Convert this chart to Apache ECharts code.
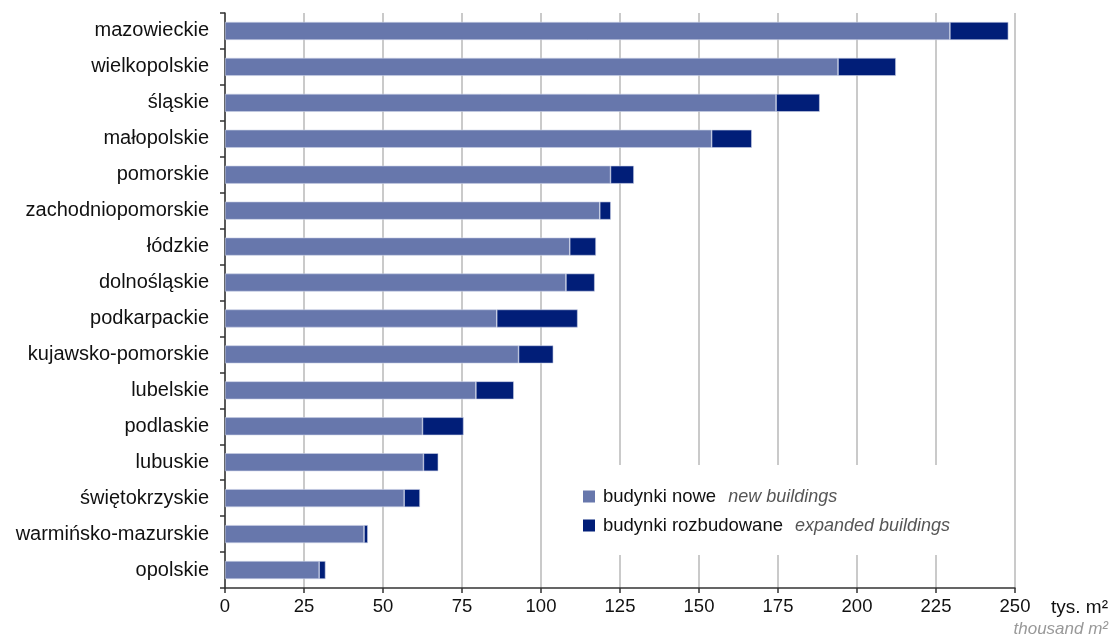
<!DOCTYPE html>
<html><head><meta charset="utf-8">
<script src="https://cdn.jsdelivr.net/npm/echarts@6/dist/echarts.min.js"></script>
<style>html,body{margin:0;padding:0;background:#fff}#c{width:1111px;height:640px}</style>
</head><body><div id="c"></div>
<script>
const categories = ['mazowieckie','wielkopolskie','śląskie','małopolskie','pomorskie','zachodniopomorskie','łódzkie','dolnośląskie','podkarpackie','kujawsko-pomorskie','lubelskie','podlaskie','lubuskie','świętokrzyskie','warmińsko-mazurskie','opolskie'];
const newBuildings = [229.4,194.0,174.4,154.0,122.0,118.6,109.1,107.9,86.0,92.9,79.4,62.5,62.8,56.7,44.0,29.8];
const expandedBuildings = [18.5,18.3,13.8,12.7,7.4,3.5,8.3,9.1,25.6,11.0,12.0,13.0,4.7,5.0,1.2,2.0];
const seriesNames = ['budynki nowe','budynki rozbudowane'];
const seriesNamesEn = ['new buildings','expanded buildings'];

const chart = echarts.init(document.getElementById('c'), null, {renderer:'canvas'});
chart.setOption({
  animation:false,
  grid:{left:225,right:96,top:13,bottom:52,containLabel:false},
  legend:{
    orient:'vertical', left:572, top:465, backgroundColor:'#fff',
    padding:[22,14,20,11], icon:'rect', itemWidth:12, itemHeight:12, itemGap:10,
    itemStyle:{borderWidth:0},
    data:seriesNames,
    formatter:function(n){const i=seriesNames.indexOf(n);return '{s|}{a|'+n+'}{b|'+seriesNamesEn[i]+'}';},
    textStyle:{rich:{
      s:{width:3},
      a:{fontFamily:'Liberation Sans',fontSize:18.5,color:'#111',lineHeight:22,padding:[0,12,0,0]},
      b:{fontFamily:'Liberation Sans',fontSize:18,fontStyle:'italic',color:'#555',lineHeight:22}
    }}
  },
  xAxis:{
    type:'value', min:0, max:250, interval:25,
    axisLine:{show:true,lineStyle:{color:'#333',width:1.5}},
    axisTick:{show:true,length:5,lineStyle:{color:'#333',width:1.5}},
    axisLabel:{fontFamily:'Liberation Sans',fontSize:18.5,color:'#111',margin:9},
    splitLine:{show:true,lineStyle:{color:'#b8b8b8',width:1.5}}
  },
  yAxis:{
    type:'category', data:categories, inverse:true,
    axisLine:{show:true,lineStyle:{color:'#333',width:1.5}},
    axisTick:{show:true,length:5,lineStyle:{color:'#333',width:1.5}},
    axisLabel:{fontFamily:'Liberation Sans',fontSize:20,color:'#111',margin:16},
    splitLine:{show:false}
  },
  graphic:[
    {type:'text',right:3,top:598,style:{text:'tys. m²',fontFamily:'Liberation Sans',fontSize:19,fill:'#111'}},
    {type:'text',right:3,top:621,style:{text:'thousand m²',fontFamily:'Liberation Sans',fontSize:17,fontStyle:'italic',fill:'#999'}}
  ],
  series:[
    {name:seriesNames[0],type:'bar',stack:'t',data:newBuildings,barWidth:18,
     itemStyle:{color:'#6777ac',borderColor:'#c9d0e6',borderWidth:0.6}},
    {name:seriesNames[1],type:'bar',stack:'t',data:expandedBuildings,barWidth:18,
     itemStyle:{color:'#011e78',borderColor:'#c9d0e6',borderWidth:0.6}}
  ]
});
</script></body></html>
